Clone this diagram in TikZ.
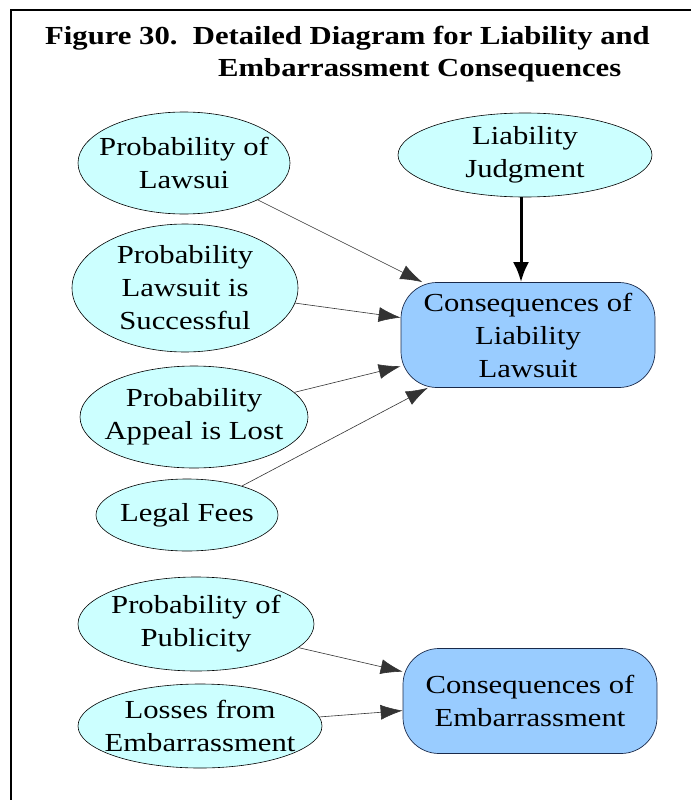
\documentclass[tikz,border=0pt]{standalone}
\usepackage{fontspec}
\setmainfont{Liberation Serif}[FakeStretch=1.18]
\usetikzlibrary{arrows.meta,shapes.geometric,positioning}

\definecolor{nodecyan}{HTML}{CCFFFF}
\definecolor{boxblue}{HTML}{99CCFF}
\definecolor{boxline}{HTML}{1A2A4A}

\begin{document}
\begin{tikzpicture}[x=1pt,y=-1pt,
  every node/.style={font=\fontsize{26}{33}\selectfont,align=center,inner sep=0pt},
  oval/.style={ellipse,draw=black,fill=nodecyan,line width=0.6pt,inner xsep=-40pt,inner ysep=-30pt},
  consbox/.style={rectangle,rounded corners=36pt,draw=boxline,fill=boxblue,line width=0.7pt,
    minimum width=254pt,minimum height=105pt},
  link/.style={draw=black!80,line width=0.6pt,-{Latex[length=22pt,width=15pt]}},
  mainlink/.style={draw=black,line width=3pt,-{Latex[length=20pt,width=16pt]}}]
\useasboundingbox (0,0) rectangle (691,800);

% frame and title
\draw[line width=2pt] (11,800) -- (11,10) -- (691,10);
\node[anchor=base west,font=\fontsize{26}{32}\bfseries\selectfont] (title1) at (45,45)
  {Figure 30.\ \ Detailed Diagram for Liability and};
\node[anchor=base west,font=\fontsize{26}{32}\bfseries\selectfont] (title2) at (218,77)
  {Embarrassment Consequences};

% liability part
\node[oval,minimum width=212pt,minimum height=102pt] (lawsuit) at (184,163) {Probability of\\Lawsui};
\node[oval,minimum width=226pt,minimum height=128pt] (success) at (185,288) {Probability\\Lawsuit is\\Successful};
\node[oval,minimum width=228pt,minimum height=102pt] (appeal) at (194,417) {Probability\\Appeal is Lost};
\node[oval,minimum width=182pt,minimum height=72pt] (fees) at (187,515) {Legal Fees};
\node[oval,minimum width=254pt,minimum height=84pt] (judgment) at (525,155) {Liability\\Judgment};
\node[consbox] (liab) at (528,335) {Consequences of\\Liability\\Lawsuit};

% embarrassment part
\node[oval,minimum width=236pt,minimum height=94pt] (publicity) at (196,624) {Probability of\\Publicity};
\node[oval,minimum width=244pt,minimum height=84pt] (losses) at (200,726) {Losses from\\Embarrassment};
\node[consbox] (embar) at (530,701) {Consequences of\\Embarrassment};

% arrows
\draw[link] (lawsuit) -- (liab);
\draw[link] (success) -- (liab);
\draw[link] (appeal) -- (liab);
\draw[link] (fees) -- (liab);
\draw[mainlink] (judgment.south -| 521,0) -- (liab.north -| 521,0);
\draw[link] (publicity) -- (embar);
\draw[link] (losses) -- (embar);
\end{tikzpicture}
\end{document}
